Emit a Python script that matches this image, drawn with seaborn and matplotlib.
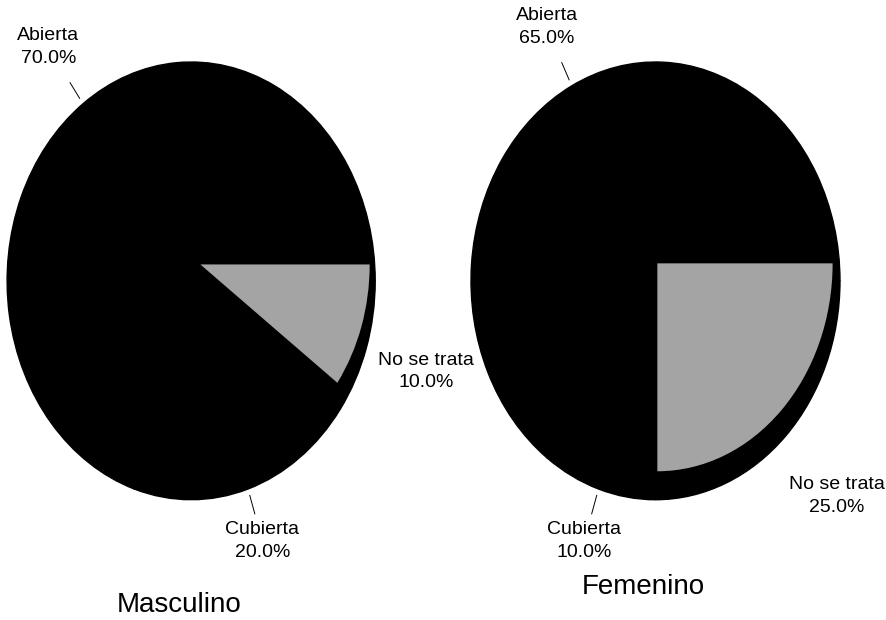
import numpy as np
import matplotlib
matplotlib.use('Agg')
import matplotlib.pyplot as plt
from matplotlib.patches import Wedge
import seaborn as sns

# datos
categorias = ['No se trata', 'Cubierta', 'Abierta']
masculino = [10.0, 20.0, 70.0]
femenino = [25.0, 10.0, 65.0]
gris = '#a4a4a4'

sns.set_theme(style='white')
plt.rcParams['font.family'] = ['Liberation Sans', 'DejaVu Sans']

fig = plt.figure(figsize=(8.87, 6.2), dpi=100)
ax1 = fig.add_axes([0.008, 0.194, 0.415, 0.706])
ax2 = fig.add_axes([0.531, 0.194, 0.416, 0.706])


def dibujar_pie(ax, valores, titulo, dists, offset, r_gris, y_titulo):
    etiquetas = [f'{c}\n{v:.1f}%' for c, v in zip(categorias, valores)]
    wedges, texts = ax.pie(valores, labels=etiquetas, colors=['black'] * 3,
                           startangle=0, counterclock=False,
                           labeldistance=1.3,
                           wedgeprops=dict(linewidth=1, edgecolor='black'),
                           textprops=dict(fontsize=14, linespacing=1.45,
                                          color='black'))
    ax.set_aspect('auto')
    ax.set_xlim(-1, 1)
    ax.set_ylim(-1, 1)

    # porcion gris (No se trata) algo desplazada sobre el fondo negro
    w0 = wedges[0]
    ax.add_patch(Wedge(offset, r_gris, w0.theta1, w0.theta2,
                       facecolor=gris, edgecolor='none', zorder=3))

    for i, (w, t, d) in enumerate(zip(wedges, texts, dists)):
        ang = np.deg2rad((w.theta1 + w.theta2) / 2)
        t.set_position((d * np.cos(ang), d * np.sin(ang)))
        t.set_ha('center')
        t.set_va('center')
        t.set_clip_on(False)
        if i > 0:
            ax.plot([1.03 * np.cos(ang), 1.12 * np.cos(ang)],
                    [1.03 * np.sin(ang), 1.12 * np.sin(ang)],
                    color='black', lw=0.7, clip_on=False)

    ax.text(0.467, y_titulo, titulo, transform=ax.transAxes,
            ha='center', va='center', fontsize=20, color='black')


dibujar_pie(ax1, masculino, 'Masculino', [1.34, 1.25, 1.32],
            (0.05, 0.075), 0.92, -0.24)
dibujar_pie(ax2, femenino, 'Femenino', [1.39, 1.25, 1.30],
            (0.01, 0.08), 0.95, -0.20)

fig.savefig('out.png', dpi=100)
